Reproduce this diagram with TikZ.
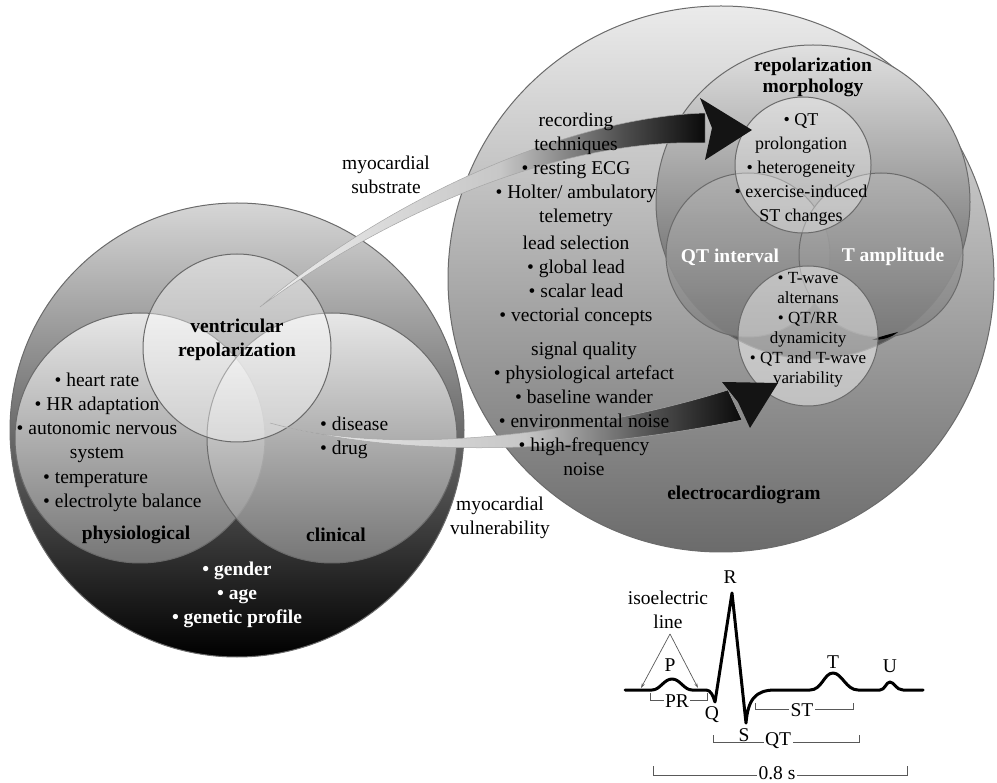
\documentclass[tikz,border=0pt]{standalone}
\usepackage{fontspec}
\setmainfont{Liberation Serif}
\usetikzlibrary{arrows.meta}
\definecolor{lcTop}{gray}{0.84}
\definecolor{lcMid}{gray}{0.63}
\definecolor{rcTop}{gray}{0.92}
\definecolor{rcMid}{gray}{0.70}
\definecolor{rcBot}{gray}{0.42}
\definecolor{rmTop}{gray}{0.88}
\definecolor{rmBot}{gray}{0.30}
\definecolor{qtTop}{gray}{0.70}
\definecolor{qtBot}{gray}{0.50}
\definecolor{phBot}{gray}{0.56}
\definecolor{rimc}{gray}{0.42}
\definecolor{shL}{gray}{0.93}
\definecolor{shM}{gray}{0.78}
\definecolor{shD}{gray}{0.30}
\definecolor{shR}{gray}{0.04}
\definecolor{brc}{gray}{0.35}
\pgfdeclarehorizontalshading{arrowshade}{100bp}{color(0bp)=(shL); color(25bp)=(shL); color(52bp)=(shM); color(66bp)=(shD); color(75bp)=(shR); color(100bp)=(shR)}
\begin{document}
\begin{tikzpicture}[x=1pt,y=-1pt,
  txt/.style={align=center,inner sep=0pt,font=\fontsize{19.5}{24}\selectfont},
  btxt/.style={txt,font=\fontsize{19.5}{24}\selectfont\bfseries},
  wtxt/.style={btxt,text=white},
  stxt/.style={align=center,inner sep=0pt,font=\fontsize{18}{24}\selectfont},
  sstxt/.style={align=center,inner sep=0pt,font=\fontsize{17}{20}\selectfont},
  rim/.style={draw=rimc,line width=1pt},
  shaft/.style={draw=gray!70,line width=0.5pt,shading=arrowshade},
  headtip/.style={fill=black!92},
  bracket/.style={draw=brc,line width=0.9pt},
  ecglbl/.style={txt,fill=white,inner sep=1.5pt},
  wave/.style={line width=3pt,line join=round,line cap=round},
]
\useasboundingbox (0,0) rectangle (997,783);

% ---------------- left sphere ----------------
\path[rim,top color=lcTop,middle color=lcMid,bottom color=black] (237,430) circle[radius=227pt];
\path[rim,top color=white,bottom color=phBot,fill opacity=0.75] (140,438) circle[radius=125pt];
\path[rim,top color=white,bottom color=phBot,fill opacity=0.75] (332,438) circle[radius=125pt];
\path[rim,fill=white,fill opacity=0.4] (237,348) circle[radius=94pt];

% ---------------- right sphere ----------------
\path[rim,top color=rcTop,middle color=rcMid,bottom color=rcBot] (721,279) circle[radius=273pt];
\path[rim,top color=rmTop,bottom color=rmBot] (813,202) circle[radius=157pt];
\path[rim,top color=qtTop,bottom color=qtBot,fill opacity=0.85] (748,255) circle[radius=82pt];
\path[rim,top color=qtTop,bottom color=qtBot,fill opacity=0.85] (881,255) circle[radius=82pt];
\path[fill=black] (872,340) .. controls (882,336) and (890,334) .. (898,332) .. controls (892,337) and (884,340) .. (872,340) -- cycle;
\path[rim,fill=white,fill opacity=0.35] (803,165) circle[radius=68pt];
\path[rim,fill=white,fill opacity=0.45] (808,336) circle[radius=70pt];

% ---------------- arrows ----------------
\path[shaft] (260,307) .. controls (380,205) and (560,118) .. (705,113)
  -- (705,143) .. controls (560,138) and (390,212) .. (260,307) -- cycle;
\path[headtip] (700,98) -- (752,130) -- (705,160) -- (712,128) -- cycle;
\path[shaft] (270,423) .. controls (400,460) and (600,430) .. (728,390)
  -- (742,420) .. controls (620,445) and (430,466) .. (270,423) -- cycle;
\path[headtip] (722,382) -- (778,383) -- (750,428) -- (738,402) -- cycle;

% ---------------- left texts ----------------
\node[btxt] (vr) at (237,340) {ventricular\\repolarization};
\node[txt] (physA) at (97,418) {• heart rate\\• HR adaptation\\• autonomic nervous\\system};
\node[txt,align=left,anchor=west] (physB) at (43,492) {• temperature\\• electrolyte balance};
\node[btxt] (phys) at (136,535) {physiological};
\node[btxt] (clin) at (336,535) {clinical};
\node[txt,align=left,anchor=west] (clinA) at (320,438) {• disease\\• drug};
\node[wtxt] (gen) at (237,595) {• gender\\• age\\• genetic profile};

% ---------------- right texts ----------------
\node[txt] (rec) at (576,170) {recording\\techniques\\• resting ECG\\• Holter/ ambulatory\\telemetry};
\node[txt] (lead) at (576,281) {lead selection\\• global lead\\• scalar lead\\• vectorial concepts};
\node[txt] (sig) at (584,409) {signal quality\\• physiological artefact\\• baseline wander\\• environmental noise\\• high-frequency\\noise};
\node[btxt] (ecgl) at (744,495) {electrocardiogram};
\node[btxt,font=\fontsize{19.5}{21}\selectfont\bfseries] (rm) at (813,77) {repolarization\\morphology};
\node[stxt] (up) at (801,169) {• QT\\prolongation\\• heterogeneity\\• exercise-induced\\ST changes};
\node[wtxt] (qti) at (730,257) {QT interval};
\node[wtxt] (tamp) at (893,257) {T amplitude};
\node[sstxt] (low) at (808,330) {• T-wave\\alternans\\• QT/RR\\dynamicity\\• QT and T-wave\\variability};

% ---------------- between ----------------
\node[txt] (subs) at (386,175) {myocardial\\substrate};
\node[txt] (vuln) at (500,518) {myocardial\\vulnerability};

% ---------------- ECG ----------------
\draw[wave] (625,690) -- (652,690) .. controls (660,690) and (664,679) .. (672,679)
  .. controls (680,679) and (684,690) .. (692,690) -- (706,690)
  .. controls (711,690) and (713,696) .. (715,702) -- (732,593) -- (746,723)
  .. controls (748,700) and (755,690) .. (775,690) -- (810,690)
  .. controls (822,690) and (824,673) .. (833,673) .. controls (842,673) and (846,690) .. (858,690)
  -- (880,690) .. controls (885,690) and (886,682) .. (890,682)
  .. controls (894,682) and (896,690) .. (903,690) -- (923,690);

\node[txt] (Rl) at (730,577) {R};
\node[txt] (iso) at (668,610) {isoelectric\\line};
\coordinate (isoA) at (670,634);
\coordinate (isoL) at (641,688);
\coordinate (isoR) at (698,688);
\draw[draw=brc,line width=0.7pt,-{Stealth[length=5pt,width=3pt]}] (isoA) -- (isoL);
\draw[draw=brc,line width=0.7pt,-{Stealth[length=5pt,width=3pt]}] (isoA) -- (isoR);
\node[txt] (Pl) at (670,665) {P};
\node[txt] (Ql) at (712,715) {Q};
\node[txt] (Sl) at (744,735) {S};
\node[txt] (Tl) at (833,662) {T};
\node[txt] (Ul) at (890,666) {U};

\coordinate (prA) at (650,693); \coordinate (prB) at (707,693);
\draw[bracket] (prA) -- ++(0,7) -- ++(57,0) -- (prB);
\node[ecglbl] (PRl) at (677,701) {PR};

\coordinate (stA) at (755,703); \coordinate (stB) at (853,703);
\draw[bracket] (stA) -- ++(0,6) -- ++(98,0) -- (stB);
\node[ecglbl] (STl) at (802,710) {ST};

\coordinate (qtA) at (713,735); \coordinate (qtB) at (859,735);
\draw[bracket] (qtA) -- ++(0,7) -- ++(146,0) -- (qtB);
\node[ecglbl] (QTl) at (778,741) {QT};

\coordinate (sA) at (653,766); \coordinate (sB) at (907,766);
\draw[bracket] (sA) -- ++(0,9) -- ++(254,0) -- (sB);
\node[ecglbl] (secl) at (777,773) {0.8 s};
\end{tikzpicture}
\end{document}
